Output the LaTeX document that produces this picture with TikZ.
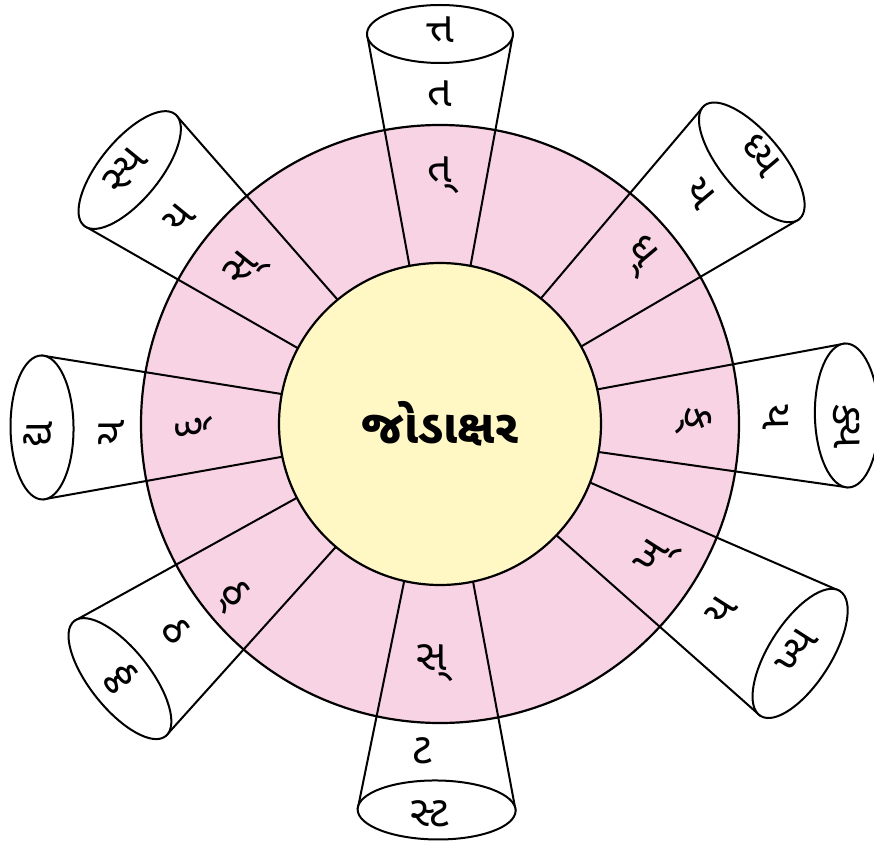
\documentclass[tikz,border=0pt]{standalone}
\usepackage{fontspec}
\newfontfamily\gujfont[Script=Gujarati]{Noto Sans Gujarati UI}
\definecolor{ringpink}{HTML}{F8D3E3}
\definecolor{hubyellow}{HTML}{FFF8C4}

\begin{document}
\begin{tikzpicture}[x=1pt, y=1pt,
    hub/.style={circle, draw, line width=2.2pt, fill=hubyellow, minimum size=322pt, inner sep=0pt, font=\gujfont\bfseries\fontsize{47}{56}\selectfont},
    ring/.style={draw, line width=2.2pt, fill=ringpink},
    side/.style={line width=2pt},
    lid/.style={draw, line width=2pt, fill=white},
    akshar/.style={inner sep=0pt, text height=22pt, text depth=4pt, font=\gujfont\fontsize{43}{50}\selectfont}
]
\useasboundingbox (-440,-422) rectangle (434,424);

% Anneau rose
\filldraw[ring] (0,0) circle (299);

% Haut
\begin{scope}[rotate=90]
  \draw[side] (150,29) -- (390,73);
  \draw[side] (150,-29) -- (390,-73);
  \draw[lid] (390,0) ellipse [x radius=29, y radius=73];
\end{scope}
\node[akshar] (ta-in) at (90:250) {ત્};
\node[akshar] (ta-mid) at (90:326) {ત};
\node[akshar] (ta-out) at (90:390) {ત્ત};

% Haut droite
\begin{scope}[rotate=40]
  \draw[side] (150,30) -- (407,74);
  \draw[side] (150,-30) -- (407,-74);
  \draw[lid] (407,0) ellipse [x radius=30, y radius=74];
\end{scope}
\node[akshar, rotate=-50] (dh-in) at (40.5:263) {ધ્};
\node[akshar, rotate=-50] (dh-mid) at (41.5:343) {ય};
\node[akshar, rotate=-50] (dh-out) at (40:413) {ધ્ય};

% Droite
\begin{scope}[rotate=1.2]
  \draw[side] (150,30) -- (407,72);
  \draw[side] (150,-30) -- (407,-72);
  \draw[lid] (407,0) ellipse [x radius=32, y radius=72];
\end{scope}
\node[akshar, rotate=-89] (ka-in) at (1.2:255) {ક્};
\node[akshar, rotate=-89] (ka-mid) at (1.2:332) {ય};
\node[akshar, rotate=-89] (ka-out) at (403,-2) {ક્ય};

% Bas droite
\begin{scope}[rotate=-32.5]
  \draw[side] (150,30) -- (427,74);
  \draw[side] (150,-30) -- (427,-74);
  \draw[lid] (427,0) ellipse [x radius=31, y radius=74];
\end{scope}
\node[akshar, rotate=57.5] (kh-in) at (-32:253) {ખ્};
\node[akshar, rotate=57.5] (kh-mid) at (-33.5:342) {ય};
\node[akshar, rotate=57.5] (kh-out) at (-32.5:427) {ખ્ય};

% Bas
\begin{scope}[rotate=-90.5]
  \draw[side] (150,33) -- (386,79);
  \draw[side] (150,-33) -- (386,-79);
  \draw[lid] (386,0) ellipse [x radius=29.5, y radius=79];
\end{scope}
\node[akshar] (sa-in) at (-92:238) {સ્};
\node[akshar] (sa-mid) at (-93:331) {ટ};
\node[akshar] (sa-out) at (-91.5:394) {સ્ટ};

% Bas gauche
\begin{scope}[rotate=-141.5]
  \draw[side] (150,30) -- (409,73.5);
  \draw[side] (150,-30) -- (409,-73.5);
  \draw[lid] (409,0) ellipse [x radius=30, y radius=73.5];
\end{scope}
\node[akshar, rotate=-51.5] (th-in) at (-140.5:268) {ઠ્};
\node[akshar, rotate=-51.5] (th-mid) at (-142:338) {ઠ};
\node[akshar, rotate=-51.5] (th-out) at (-141.5:407) {ઠ્ઠ};

% Gauche
\begin{scope}[rotate=180.5]
  \draw[side] (150,30) -- (398,72);
  \draw[side] (150,-30) -- (398,-72);
  \draw[lid] (398,0) ellipse [x radius=31.5, y radius=72];
\end{scope}
\node[akshar, rotate=90] (da-in) at (181:248) {દ્};
\node[akshar, rotate=90] (da-mid) at (181.5:325) {ય};
\node[akshar, rotate=90] (da-out) at (181.5:397) {દ્ય};

% Haut gauche
\begin{scope}[rotate=140.7]
  \draw[side] (150,30) -- (401,72);
  \draw[side] (150,-30) -- (401,-72);
  \draw[lid] (401,0) ellipse [x radius=30, y radius=72];
\end{scope}
\node[akshar, rotate=50.7] (sy-in) at (142:250) {સ્};
\node[akshar, rotate=50.7] (sy-mid) at (141.8:328) {ય};
\node[akshar, rotate=50.7] (sy-out) at (141.2:400) {સ્ય};

% Centre
\node[hub] (hub) at (0,0) {જોડાક્ષર};

\end{tikzpicture}
\end{document}
